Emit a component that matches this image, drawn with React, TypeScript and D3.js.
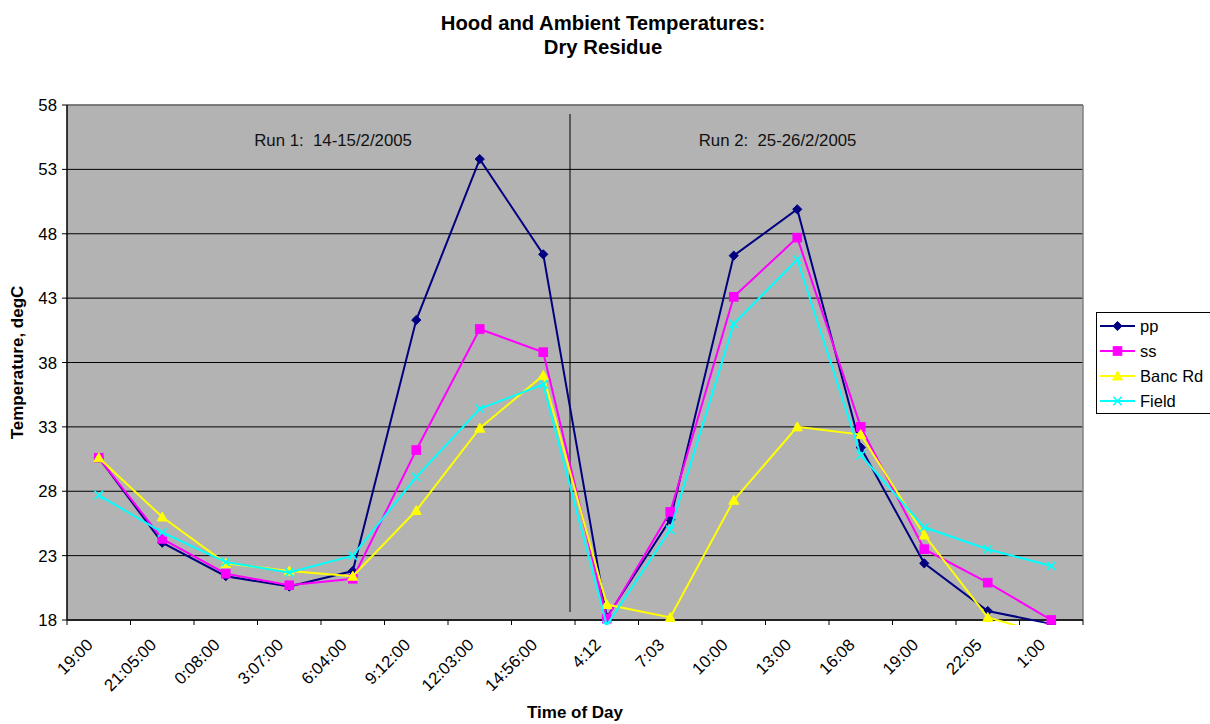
import React from "react";
import * as d3 from "d3";

// Time-of-day categories across both runs
const timeLabels = [
  "19:00", "21:05:00", "0:08:00", "3:07:00", "6:04:00", "9:12:00", "12:03:00", "14:56:00",
  "4:12", "7:03", "10:00", "13:00", "16:08", "19:00", "22:05", "1:00",
];

// Temperatures, degC
const ppValues = [30.6, 24.0, 21.4, 20.6, 21.8, 41.3, 53.8, 46.4, 18.2, 25.8, 46.3, 49.9, 31.4, 22.4, 18.7, 17.7];
const ssValues = [30.6, 24.3, 21.6, 20.7, 21.2, 31.2, 40.6, 38.8, 18.1, 26.4, 43.1, 47.7, 33.0, 23.5, 20.9, 18.0];
const bancRdValues = [30.6, 26.0, 22.4, 21.8, 21.4, 26.5, 32.9, 37.0, 19.2, 18.2, 27.3, 33.0, 32.4, 24.6, 18.2, 16.8];
const fieldValues = [27.7, 24.8, 22.5, 21.7, 23.0, 29.1, 34.4, 36.3, 17.6, 25.0, 41.0, 46.0, 30.8, 25.2, 23.5, 22.2];

const yTicks = [18, 23, 28, 33, 38, 43, 48, 53, 58];

// Run annotations, positioned in category units from the first category centre
const runNotes = [
  { text: "Run 1:  14-15/2/2005", at: 3.69 },
  { text: "Run 2:  25-26/2/2005", at: 10.69 },
];

type Marker = "diamond" | "square" | "triangle" | "cross";
const seriesList: { name: string; values: number[]; color: string; marker: Marker }[] = [
  { name: "pp", values: ppValues, color: "#000080", marker: "diamond" },
  { name: "ss", values: ssValues, color: "#FF00FF", marker: "square" },
  { name: "Banc Rd", values: bancRdValues, color: "#FFFF00", marker: "triangle" },
  { name: "Field", values: fieldValues, color: "#00FFFF", marker: "cross" },
];

const W = 1210;
const H = 724;
const plot = { left: 67, right: 1083, top: 105, bottom: 620 };
const FONT = "'Liberation Sans', Arial, sans-serif";

function MarkerShape({ type, x, y, color }: { type: Marker; x: number; y: number; color: string }) {
  if (type === "diamond") {
    const r = 4.6;
    return <path d={`M${x},${y - r}L${x + r},${y}L${x},${y + r}L${x - r},${y}Z`} fill={color} stroke={color} strokeWidth={1} />;
  }
  if (type === "square") {
    const s = 4.3;
    return <rect x={x - s} y={y - s} width={2 * s} height={2 * s} fill={color} stroke={color} strokeWidth={1} />;
  }
  if (type === "triangle") {
    const r = 5;
    return <path d={`M${x},${y - r}L${x + r},${y + r * 0.8}L${x - r},${y + r * 0.8}Z`} fill={color} stroke={color} strokeWidth={1} />;
  }
  const c = 4.2;
  return (
    <path d={`M${x - c},${y - c}L${x + c},${y + c}M${x - c},${y + c}L${x + c},${y - c}`} stroke={color} strokeWidth={1.6} fill="none" />
  );
}

export default function App() {
  const idx = timeLabels.map((_, i) => i);
  const x = d3.scaleBand<number>().domain(idx).range([plot.left, plot.right]).padding(0);
  const cx = (i: number) => (x(i) as number) + x.bandwidth() / 2;
  const y = d3.scaleLinear().domain([18, 58]).range([plot.bottom, plot.top]);

  const lineGen = d3
    .line<number>()
    .x((_, i) => cx(i))
    .y((v) => y(v));

  const boundaries = d3.range(timeLabels.length + 1).map((i) => plot.left + i * x.bandwidth());
  const dividerX = plot.left + 8 * x.bandwidth() - 5;

  return (
    <svg width={W} height={H} style={{ position: "absolute", left: 0, top: 0, display: "block" }} fontFamily={FONT}>
      <rect x={0} y={0} width={W} height={H} fill="#fff" />
      <defs>
        <clipPath id="plotClip">
          <rect x={plot.left} y={plot.top} width={plot.right - plot.left} height={plot.bottom - plot.top + 5} />
        </clipPath>
      </defs>

      {/* Title */}
      <text x={603} y={29.5} textAnchor="middle" fontSize={20.3} fontWeight="bold" fill="#000">
        Hood and Ambient Temperatures:
      </text>
      <text x={603} y={53.5} textAnchor="middle" fontSize={20.3} fontWeight="bold" fill="#000">
        Dry Residue
      </text>

      {/* Plot background */}
      <rect x={plot.left} y={plot.top} width={plot.right - plot.left} height={plot.bottom - plot.top} fill="#B3B3B3" />

      {/* Horizontal gridlines */}
      {yTicks.map((t) => (
        <line key={t} x1={plot.left} x2={plot.right} y1={y(t)} y2={y(t)} stroke="#000" strokeWidth={1} />
      ))}

      {/* Plot frame */}
      <line x1={plot.left} x2={plot.right} y1={plot.top} y2={plot.top} stroke="#808080" strokeWidth={1.5} />
      <line x1={plot.right} x2={plot.right} y1={plot.top} y2={plot.bottom} stroke="#808080" strokeWidth={1.5} />

      {/* Run divider */}
      <line x1={dividerX} x2={dividerX} y1={114} y2={612} stroke="#000" strokeWidth={1} />

      {/* Run notes */}
      {runNotes.map((n) => (
        <text
          key={n.text}
          x={cx(0) + n.at * x.bandwidth()}
          y={146}
          textAnchor="middle"
          fontSize={16.8}
          fill="#111"
          style={{ whiteSpace: "pre" }}
        >
          {n.text}
        </text>
      ))}

      {/* Axes */}
      <line x1={plot.left} x2={plot.left} y1={plot.top} y2={plot.bottom} stroke="#000" strokeWidth={1.5} />
      <line x1={plot.left} x2={plot.right} y1={plot.bottom} y2={plot.bottom} stroke="#222" strokeWidth={2} />
      {yTicks.map((t) => (
        <g key={"yt" + t}>
          <line x1={plot.left - 5} x2={plot.left} y1={y(t)} y2={y(t)} stroke="#000" />
          <text x={57} y={y(t)} dy="0.36em" textAnchor="end" fontSize={16.8} fill="#000">
            {t}
          </text>
        </g>
      ))}
      {boundaries.map((b, i) => (
        <line key={"xt" + i} x1={b} x2={b} y1={plot.bottom} y2={plot.bottom + 5} stroke="#000" />
      ))}
      {timeLabels.map((lab, i) => (
        <text
          key={"xl" + i}
          transform={`translate(${cx(i) - 5},${plot.bottom + 26}) rotate(-45)`}
          textAnchor="end"
          fontSize={16.8}
          fill="#000"
        >
          {lab}
        </text>
      ))}

      {/* Axis titles */}
      <text transform={`translate(23,${(plot.top + plot.bottom) / 2}) rotate(-90)`} textAnchor="middle" fontSize={17} fontWeight="bold" fill="#000">
        Temperature, degC
      </text>
      <text x={(plot.left + plot.right) / 2} y={718} textAnchor="middle" fontSize={17} fontWeight="bold" fill="#000">
        Time of Day
      </text>

      {/* Series */}
      <g clipPath="url(#plotClip)">
        {seriesList.map((s) => (
          <g key={s.name}>
            <path d={lineGen(s.values) || ""} fill="none" stroke={s.color} strokeWidth={2} />
            {s.values.map((v, i) => (
              <MarkerShape key={i} type={s.marker} x={cx(i)} y={y(v)} color={s.color} />
            ))}
          </g>
        ))}
      </g>

      {/* Legend */}
      <rect x={1096.5} y={312.5} width={130} height={101} fill="#fff" stroke="#000" strokeWidth={1} />
      {seriesList.map((s, i) => {
        const ly = 326 + i * 25;
        return (
          <g key={"lg" + s.name}>
            <line x1={1100} x2={1135} y1={ly} y2={ly} stroke={s.color} strokeWidth={2} />
            <MarkerShape type={s.marker} x={1117.5} y={ly} color={s.color} />
            <text x={1140} y={ly} dy="0.36em" fontSize={16.5} fill="#000">
              {s.name}
            </text>
          </g>
        );
      })}
    </svg>
  );
}
